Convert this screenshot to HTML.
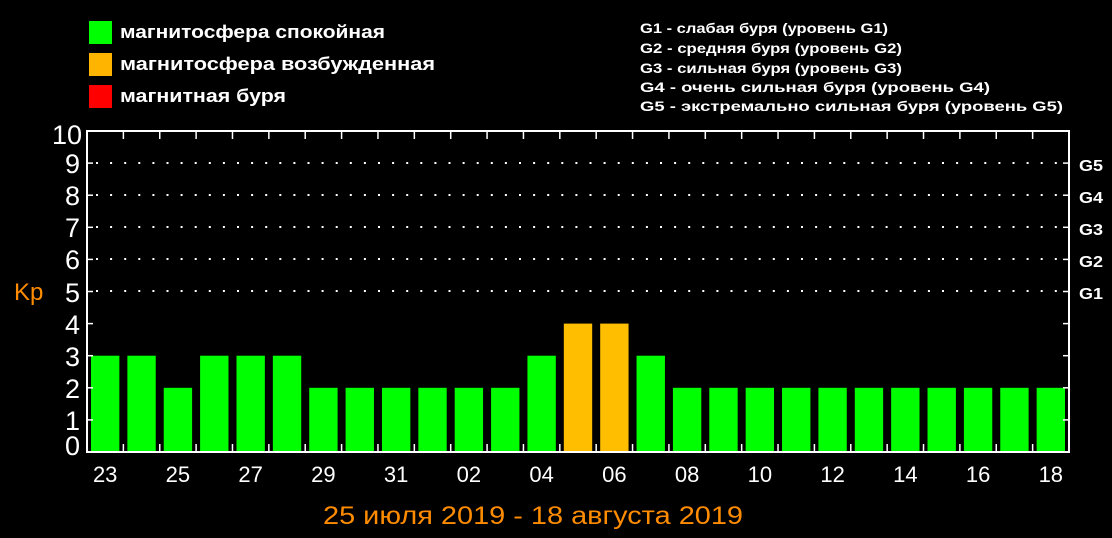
<!DOCTYPE html>
<html><head><meta charset="utf-8"><style>html,body{margin:0;padding:0;background:#000;}svg{display:block}</style></head><body>
<svg width="1112" height="538" viewBox="0 0 1112 538" xmlns="http://www.w3.org/2000/svg" font-family="Liberation Sans, DejaVu Sans, sans-serif">
<rect width="1112" height="538" fill="#000"/>
<rect x="89" y="21" width="23" height="23" fill="#00ff00"/>
<rect x="89" y="53" width="23" height="23" fill="#ffb400"/>
<rect x="89" y="85" width="23" height="23" fill="#ff0000"/>
<g fill="#fff" font-size="18" font-weight="bold">
<text x="120" y="38" textLength="265" lengthAdjust="spacingAndGlyphs">магнитосфера спокойная</text>
<text x="120" y="70" textLength="315" lengthAdjust="spacingAndGlyphs">магнитосфера возбужденная</text>
<text x="120" y="102" textLength="166" lengthAdjust="spacingAndGlyphs">магнитная буря</text>
</g>
<g fill="#fff" font-size="14" font-weight="bold">
<text x="640" y="33" textLength="248" lengthAdjust="spacingAndGlyphs">G1 - слабая буря (уровень G1)</text>
<text x="640" y="53" textLength="262" lengthAdjust="spacingAndGlyphs">G2 - средняя буря (уровень G2)</text>
<text x="640" y="73" textLength="262" lengthAdjust="spacingAndGlyphs">G3 - сильная буря (уровень G3)</text>
<text x="640" y="92" textLength="350" lengthAdjust="spacingAndGlyphs">G4 - очень сильная буря (уровень G4)</text>
<text x="640" y="111" textLength="423" lengthAdjust="spacingAndGlyphs">G5 - экстремально сильная буря (уровень G5)</text>
</g>
<g stroke="#fff" stroke-width="2" stroke-dasharray="2 12.1">
<line x1="96" y1="163" x2="1069" y2="163"/>
<line x1="96" y1="195" x2="1069" y2="195"/>
<line x1="96" y1="227" x2="1069" y2="227"/>
<line x1="96" y1="259" x2="1069" y2="259"/>
<line x1="96" y1="291" x2="1069" y2="291"/>
</g>
<g id="bars"></g>
<rect x="87" y="131" width="982" height="321" fill="none" stroke="#fff" stroke-width="2"/>
<g id="ticks" stroke="#fff" stroke-width="1.5"></g>
<g fill="#fff" font-size="27" text-anchor="end">
<text x="82" y="144">10</text><text x="80" y="173">9</text><text x="80" y="205">8</text><text x="80" y="237">7</text><text x="80" y="269">6</text><text x="80" y="302">5</text><text x="80" y="334">4</text><text x="80" y="366">3</text><text x="80" y="398">2</text><text x="80" y="430">1</text><text x="80" y="455">0</text>
</g>
<text x="14" y="300" fill="#ff8c00" font-size="24">Kp</text>
<g fill="#fff" font-size="16" font-weight="bold">
<text x="1079" y="171" textLength="24" lengthAdjust="spacingAndGlyphs">G5</text><text x="1079" y="203" textLength="24" lengthAdjust="spacingAndGlyphs">G4</text><text x="1079" y="235" textLength="24" lengthAdjust="spacingAndGlyphs">G3</text><text x="1079" y="267" textLength="24" lengthAdjust="spacingAndGlyphs">G2</text><text x="1079" y="299" textLength="24" lengthAdjust="spacingAndGlyphs">G1</text>
</g>
<g id="xl" fill="#fff" font-size="22" text-anchor="middle"></g>
<text x="323" y="524" fill="#ff8c00" font-size="25" textLength="420" lengthAdjust="spacingAndGlyphs">25 июля 2019 - 18 августа 2019</text>
<script>
var v=[3,3,2,3,3,3,2,2,2,2,2,2,3,4,4,3,2,2,2,2,2,2,2,2,2,2,2];
var lab=["23","25","27","29","31","02","04","06","08","10","12","14","16","18"];
var ns="http://www.w3.org/2000/svg",b=document.getElementById("bars"),t=document.getElementById("ticks"),xl=document.getElementById("xl");
var w=982/27;
function el(n,a,p){var e=document.createElementNS(ns,n);for(var k in a)e.setAttribute(k,a[k]);p.appendChild(e);return e;}
for(var i=0;i<27;i++){var x=87+i*w;var h=v[i]*32.1;
el("rect",{x:x+4,y:452-h,width:w-8,height:h,fill:v[i]>=4?"#ffbf00":"#00ff00"},b);
if(i>0){el("line",{x1:x,y1:131,x2:x,y2:139},t);el("line",{x1:x,y1:452,x2:x,y2:444},t);}
if(i%2==0){var tx=el("text",{x:x+w/2,y:482},xl);tx.textContent=lab[i/2];}}
for(var k=1;k<10;k++){var y=452-k*32.1;el("line",{x1:87,y1:y,x2:93,y2:y},t);el("line",{x1:1069,y1:y,x2:1063,y2:y},t);}
</script>
</svg>
</body></html>
